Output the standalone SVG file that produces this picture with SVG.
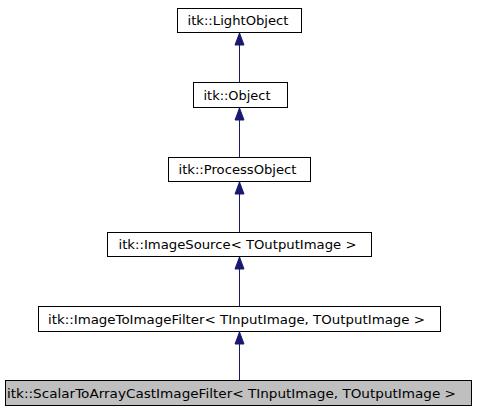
<svg xmlns="http://www.w3.org/2000/svg" width="477" height="411" viewBox="0 0 477 411">
<style>
.n rect{fill:#ffffff;stroke:#000000;stroke-width:1}
.n.cur rect{fill:#bfbfbf}
.n text{font-family:"DejaVu Sans",sans-serif;font-size:13px;fill:#000000}
.e line{stroke:#191970;stroke-width:1}
.e polygon{fill:#191970;stroke:#191970;stroke-width:1}
</style>
<rect width="477" height="411" fill="#ffffff"/>
<g id="edges" class="e">
<line x1="239.5" y1="45" x2="239.5" y2="82.5"/>
<polygon points="239.5,33 235,45 244,45"/>
<line x1="239.5" y1="120" x2="239.5" y2="157"/>
<polygon points="239.5,108 235,120 244,120"/>
<line x1="239.5" y1="194" x2="239.5" y2="232"/>
<polygon points="239.5,182 235,194 244,194"/>
<line x1="239.5" y1="269" x2="239.5" y2="306.5"/>
<polygon points="239.5,257 235,269 244,269"/>
<line x1="239.5" y1="344" x2="239.5" y2="381"/>
<polygon points="239.5,332 235,344 244,344"/>
</g>
<g id="node-LightObject" class="n">
<rect x="177.5" y="8.5" width="124" height="24"/>
<text x="187.5" y="25" textLength="101" lengthAdjust="spacingAndGlyphs">itk::LightObject</text>
</g>
<g id="node-Object" class="n">
<rect x="193.5" y="82.5" width="94" height="25"/>
<text x="203.5" y="100" textLength="67" lengthAdjust="spacingAndGlyphs">itk::Object</text>
</g>
<g id="node-ProcessObject" class="n">
<rect x="168.5" y="157.5" width="142" height="24"/>
<text x="178.5" y="174" textLength="118" lengthAdjust="spacingAndGlyphs">itk::ProcessObject</text>
</g>
<g id="node-ImageSource" class="n">
<rect x="107.5" y="232.5" width="264" height="24"/>
<text x="118.5" y="249" textLength="238" lengthAdjust="spacingAndGlyphs">itk::ImageSource&lt; TOutputImage &gt;</text>
</g>
<g id="node-ImageToImageFilter" class="n">
<rect x="38.5" y="306.5" width="402" height="25"/>
<text x="48" y="324" textLength="377" lengthAdjust="spacingAndGlyphs">itk::ImageToImageFilter&lt; TInputImage, TOutputImage &gt;</text>
</g>
<g id="node-ScalarToArrayCastImageFilter" class="n cur">
<rect x="5.5" y="380.5" width="466" height="25"/>
<text x="7" y="398" textLength="449" lengthAdjust="spacingAndGlyphs">itk::ScalarToArrayCastImageFilter&lt; TInputImage, TOutputImage &gt;</text>
</g>
</svg>
